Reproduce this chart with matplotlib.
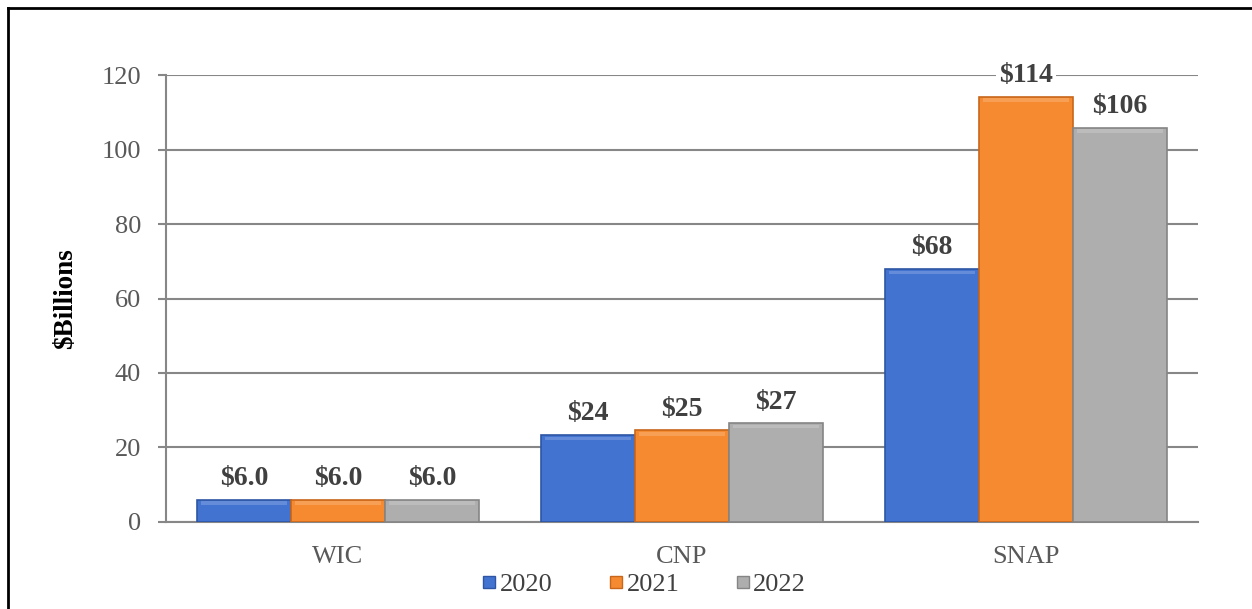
import numpy as np
import matplotlib.pyplot as plt
from matplotlib.lines import Line2D

categorias = ['WIC', 'CNP', 'SNAP']
anos = ['2020', '2021', '2022']
v2020 = [6.0, 23.4, 68.0]
v2021 = [6.0, 24.7, 114.2]
v2022 = [6.0, 26.6, 105.9]
rotulos_2020 = ['$6.0', '$24', '$68']
rotulos_2021 = ['$6.0', '$25', '$114']
rotulos_2022 = ['$6.0', '$27', '$106']
yticks = [0, 20, 40, 60, 80, 100, 120]

cores = ['#4273D0', '#F58A30', '#AEAEAE']
bordas = ['#2E55A3', '#C8661A', '#858585']
cinza = '#878787'

plt.rcParams['font.family'] = ['Liberation Serif', 'DejaVu Serif']

fig = plt.figure(figsize=(12.52, 6.09), dpi=100)
ax = fig.add_axes([0.1326, 0.1429, 0.8243, 0.7339])

x = np.arange(len(categorias))
largura = 0.273
series = [v2020, v2021, v2022]
rotulos = [rotulos_2020, rotulos_2021, rotulos_2022]

for i, (vals, labs) in enumerate(zip(series, rotulos)):
    pos = x + (i - 1) * largura
    barras = ax.bar(pos, vals, largura, color=cores[i], edgecolor=bordas[i],
                    linewidth=1.2, zorder=3, label=anos[i])
    # brilho no topo para imitar o chanfro
    for b in barras:
        h = b.get_height()
        ax.bar(b.get_x() + b.get_width() / 2, min(1.0, h * 0.25), largura * 0.92,
               bottom=h - min(1.5, h * 0.35), color='white', alpha=0.18,
               linewidth=0, zorder=4)
    for p, v, t in zip(pos, vals, labs):
        ax.annotate(t, (p, v), xytext=(0, 6), textcoords='offset points',
                    ha='center', va='bottom', fontsize=20, fontweight='bold',
                    color='#404040', zorder=6, annotation_clip=False,
                    bbox=dict(facecolor='white', edgecolor='none', pad=2))

ax.set_xlim(-0.5, 2.5)
ax.set_ylim(0, 120)
ax.set_yticks(yticks)
ax.set_xticks(x)
ax.set_xticklabels(categorias)
ax.tick_params(axis='y', labelsize=19, labelcolor='#595959', color=cinza,
               length=6, width=1.5, pad=12)
ax.tick_params(axis='x', labelsize=19, labelcolor='#595959', length=0, pad=17)
ax.yaxis.grid(True, color=cinza, linewidth=1.5, zorder=0)
ax.set_axisbelow(True)
for s in ['top', 'right']:
    ax.spines[s].set_visible(False)
ax.spines['left'].set_color(cinza)
ax.spines['left'].set_linewidth(1.5)
ax.spines['bottom'].set_color(cinza)
ax.spines['bottom'].set_linewidth(1.5)
ax.set_ylabel('$Billions', fontsize=19.5, fontweight='bold', labelpad=17)

handles = [Line2D([], [], marker='s', linestyle='none', markersize=9,
                  markerfacecolor=cores[i], markeredgecolor=bordas[i])
           for i in range(3)]
fig.legend(handles, anos, loc='center', bbox_to_anchor=(0.511, 0.040),
           ncol=3, frameon=False, fontsize=19, handletextpad=-0.2,
           handlelength=1.2, columnspacing=1.8, labelcolor='#404040')

# moldura
fig.add_artist(Line2D([8 / 1252, 8 / 1252], [0, 1 - 8 / 609], color='black',
                      linewidth=2, transform=fig.transFigure))
fig.add_artist(Line2D([8 / 1252, 1], [1 - 8 / 609, 1 - 8 / 609], color='black',
                      linewidth=2, transform=fig.transFigure))

fig.savefig('out.png', dpi=100)
